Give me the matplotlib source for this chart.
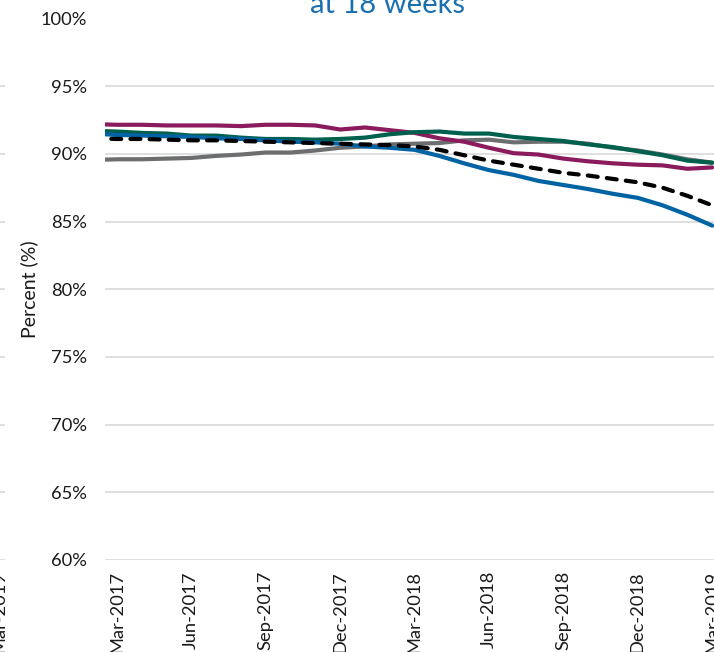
"""
Share of patients waiting under 18 weeks, Mar-2017 to Mar-2019.
Redrawn from a cropped panel of a larger figure.
"""
import numpy as np
import matplotlib
matplotlib.use("Agg")
import matplotlib.pyplot as plt
import matplotlib.transforms as mtransforms

# month labels (first point Feb-2017 sits just outside the visible plot)
months = ['Feb-2017', 'Mar-2017', 'Apr-2017', 'May-2017', 'Jun-2017', 'Jul-2017',
          'Aug-2017', 'Sep-2017', 'Oct-2017', 'Nov-2017', 'Dec-2017',
          'Jan-2018', 'Feb-2018', 'Mar-2018', 'Apr-2018', 'May-2018', 'Jun-2018',
          'Jul-2018', 'Aug-2018', 'Sep-2018', 'Oct-2018', 'Nov-2018', 'Dec-2018',
          'Jan-2019', 'Feb-2019', 'Mar-2019']
tick_labels = ['Mar-2017', 'Jun-2017', 'Sep-2017', 'Dec-2017', 'Mar-2018',
               'Jun-2018', 'Sep-2018', 'Dec-2018', 'Mar-2019']

plum = [92.2, 92.15, 92.15, 92.1, 92.1, 92.1, 92.05, 92.15, 92.15, 92.1, 91.8,
        91.95, 91.75, 91.55, 91.15, 90.9, 90.45, 90.05, 89.95, 89.65, 89.45,
        89.3, 89.2, 89.15, 88.9, 89.0]
green = [91.7, 91.65, 91.55, 91.5, 91.35, 91.35, 91.2, 91.1, 91.1, 91.05, 91.1,
         91.2, 91.45, 91.6, 91.65, 91.5, 91.5, 91.25, 91.1, 90.95, 90.7,
         90.5, 90.2, 89.9, 89.5, 89.35]
grey = [89.55, 89.6, 89.6, 89.65, 89.7, 89.85, 89.95, 90.1, 90.1, 90.25, 90.45,
        90.55, 90.7, 90.75, 90.8, 91.0, 91.05, 90.85, 90.9, 90.9, 90.75,
        90.45, 90.25, 89.95, 89.6, 89.35]
blue = [91.5, 91.4, 91.35, 91.3, 91.25, 91.15, 91.1, 91.0, 90.9, 90.85, 90.75,
        90.55, 90.45, 90.3, 89.85, 89.3, 88.8, 88.45, 88.0, 87.7, 87.4,
        87.05, 86.75, 86.2, 85.5, 84.7]
total = [91.15, 91.1, 91.1, 91.05, 91.0, 91.0, 90.95, 90.9, 90.85, 90.8, 90.75,
         90.7, 90.65, 90.55, 90.3, 89.9, 89.5, 89.2, 88.9, 88.6, 88.4,
         88.15, 87.9, 87.5, 86.9, 86.2]

FONT = 'Lato'
W, H = 714, 652
x = np.arange(len(months)) - 1  # Mar-2017 -> 0

fig = plt.figure(figsize=(W / 100, H / 100), dpi=100)

# plot area in pixels
left_px, right_px, top_px, bot_px = 105, 724.6, 18.5, 560
ax = fig.add_axes([left_px / W, 1 - bot_px / H,
                   (right_px - left_px) / W, (bot_px - top_px) / H])

lw = 3.0
ax.plot(x, grey, color='#6D6E70', lw=lw, solid_capstyle='round', zorder=3)
ax.plot(x, plum, color='#8A1B5C', lw=lw, solid_capstyle='round', zorder=4)
ax.plot(x, green, color='#00604E', lw=lw, solid_capstyle='round', zorder=5)
ax.plot(x, blue, color='#0063A3', lw=lw, solid_capstyle='round', zorder=6)
ax.plot(x, total, color='black', lw=lw, dashes=(2.4, 2.2),
        dash_capstyle='round', zorder=7)

ax.set_xlim(-0.48, 24.5)
ax.set_ylim(60, 100)
ax.set_yticks(np.arange(60, 101, 5))
ax.set_yticklabels(['%d%%' % v for v in range(60, 101, 5)])
ax.set_xticks(np.arange(0, 25, 3))
ax.set_xticklabels(tick_labels, rotation=90)

ax.grid(axis='y', color='#D9D9D9', lw=1.2, zorder=0)
ax.set_axisbelow(True)
for s in ax.spines.values():
    s.set_visible(False)
ax.tick_params(length=0, labelsize=13.2, colors='#1a1a1a')
ax.tick_params(axis='y', pad=13)
ax.tick_params(axis='x', pad=8)
for lbl in ax.get_xticklabels() + ax.get_yticklabels():
    lbl.set_fontfamily(FONT)

ax.set_ylabel('Percent (%)', fontsize=14, family=FONT, color='#1a1a1a')
ax.yaxis.set_label_coords((38 - left_px) / (right_px - left_px), 0.5)

# bottom of the (cropped) title
fig.text(387 / W, 1 - 12.7 / H, 'at 18 weeks', ha='center', va='baseline',
         fontsize=21, family=FONT, color='#1A6FB0')

# remnants of the neighbouring panel on the left edge
ghost = fig.add_axes([-300 / W, 1 - bot_px / H, 305 / W, (bot_px - top_px) / H])
ghost.set_xlim(0, 1)
ghost.set_ylim(60, 100)
ghost.set_yticks(np.arange(60, 101, 5))
ghost.set_yticklabels([])
ghost.set_xticks([0.98])
ghost.set_xticklabels(['Mar-2019'], rotation=90, fontsize=13.2, family=FONT,
                      color='#1a1a1a')
ghost.grid(axis='y', color='#D9D9D9', lw=1.2)
for s in ghost.spines.values():
    s.set_visible(False)
ghost.tick_params(length=0)
ghost.tick_params(axis='x', pad=8)
ghost.patch.set_alpha(0)

fig.savefig('out.png', dpi=100)
